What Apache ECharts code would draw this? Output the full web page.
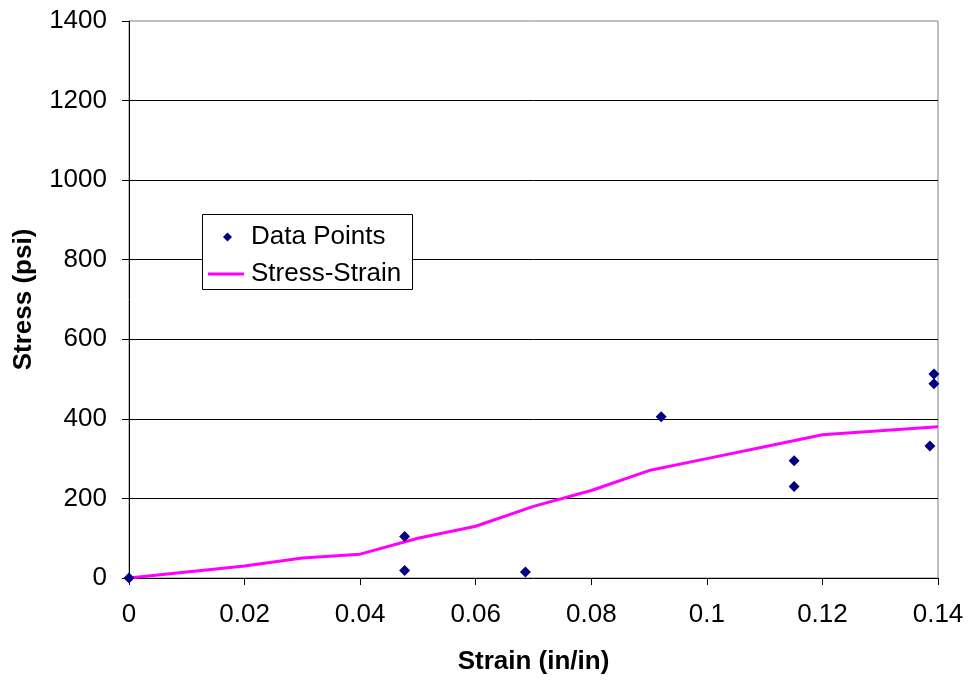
<!DOCTYPE html>
<html>
<head>
<meta charset="utf-8">
<script src="https://cdn.jsdelivr.net/npm/echarts@6/dist/echarts.min.js"></script>
<style>
  html, body { margin: 0; padding: 0; background: #fff; }
  #chart { width: 968px; height: 681px; }
</style>
</head>
<body>
<div id="chart"></div>
<script>
// measured data points
var pointStrain = [0, 0.0477, 0.0477, 0.0686, 0.0921, 0.1151, 0.1151, 0.1386, 0.1393, 0.1393];
var pointStress = [0, 104, 19, 15, 405, 295, 230, 332, 513, 488];

// fitted stress-strain curve
var curveStrain = [0, 0.01, 0.02, 0.03, 0.04, 0.05, 0.06, 0.07, 0.08, 0.09, 0.1, 0.11, 0.12, 0.13, 0.14];
var curveStress = [0, 15, 30, 50, 60, 100, 130, 180, 220, 270, 300, 330, 360, 370, 380];

var chartDom = document.getElementById('chart');
var myChart = echarts.init(chartDom);
var font = 'Liberation Sans, Arial, sans-serif';
var legendText = { fontFamily: font, fontSize: 26, color: '#000' };

var option = {
  animation: false,
  grid: { left: 129, right: 30, top: 21, bottom: 103, show: true, borderColor: '#808080', borderWidth: 1 },
  // box around both legends
  graphic: [{
    type: 'rect',
    z: 5,
    shape: { x: 202.5, y: 214.5, width: 210, height: 75 },
    style: { fill: '#fff', stroke: '#000', lineWidth: 1 }
  }],
  legend: [
    {
      left: 223, top: 224, padding: 0, z: 6,
      itemWidth: 9, itemHeight: 9,
      icon: 'diamond',
      itemStyle: { color: '#000080' },
      textStyle: Object.assign({ padding: [0, 0, 0, 14] }, legendText),
      data: ['Data Points']
    },
    {
      left: 208, top: 261, padding: 0, z: 6,
      itemWidth: 36, itemHeight: 3,
      icon: 'rect',
      textStyle: Object.assign({ padding: [0, 0, 0, 2] }, legendText),
      data: ['Stress-Strain']
    }
  ],
  xAxis: {
    type: 'value',
    min: 0, max: 0.14, interval: 0.02,
    name: 'Strain (in/in)',
    nameLocation: 'middle',
    nameGap: 71,
    nameTextStyle: { fontFamily: font, fontSize: 26, fontWeight: 'bold', color: '#000' },
    axisLine: { lineStyle: { color: '#000', width: 1 } },
    axisTick: { show: true, length: 7, lineStyle: { color: '#000' } },
    axisLabel: { fontFamily: font, fontSize: 26, color: '#000', margin: 24 },
    splitLine: { show: false }
  },
  yAxis: {
    type: 'value',
    min: 0, max: 1400, interval: 200,
    name: 'Stress (psi)',
    nameLocation: 'middle',
    nameGap: 92,
    nameTextStyle: { fontFamily: font, fontSize: 26, fontWeight: 'bold', color: '#000' },
    axisLine: { show: true, lineStyle: { color: '#000', width: 1 } },
    axisTick: { show: true, length: 7, lineStyle: { color: '#000' } },
    axisLabel: {
      fontFamily: font, fontSize: 26, color: '#000', margin: 22,
      formatter: function (v) { return String(v); }
    },
    splitLine: { show: true, showMinLine: false, showMaxLine: false, lineStyle: { color: '#000', width: 1 } }
  },
  series: [
    {
      name: 'Stress-Strain',
      type: 'line',
      data: curveStrain.map(function (x, i) { return [x, curveStress[i]]; }),
      symbol: 'none',
      lineStyle: { color: '#ff00ff', width: 3 },
      itemStyle: { color: '#ff00ff' },
      z: 2
    },
    {
      name: 'Data Points',
      type: 'scatter',
      data: pointStrain.map(function (x, i) { return [x, pointStress[i]]; }),
      symbol: 'diamond',
      symbolSize: 11,
      itemStyle: { color: '#000080', opacity: 1 },
      z: 3
    }
  ]
};

myChart.setOption(option);
</script>
</body>
</html>
